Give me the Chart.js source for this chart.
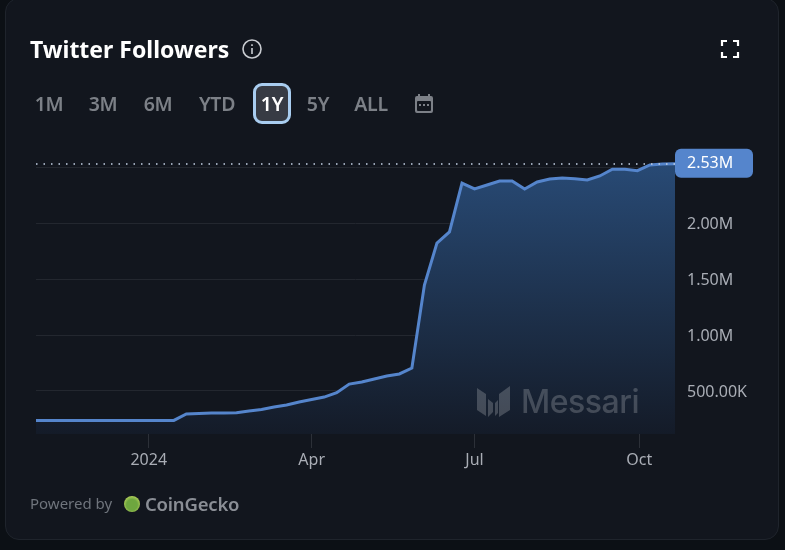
<!DOCTYPE html>
<html>
<head>
<meta charset="utf-8">
<title>Twitter Followers</title>
<script src="https://cdn.jsdelivr.net/npm/chart.js@4"></script>
<style>
    html, body { margin: 0; padding: 0; width: 785px; height: 550px; overflow: hidden; background: #0c1015; }
    body { position: relative; font-family: "Noto Sans", sans-serif; }
    #card { position: absolute; left: 5px; top: -2px; width: 772px; height: 540px; background: #12161e; border: 1px solid #1f242c; border-radius: 14px; }
    #chart { position: absolute; left: 0; top: 0; }
    .abs { position: absolute; white-space: nowrap; }
    #title { left: 30px; top: 34px; font-size: 23px; line-height: 30px; font-weight: 700; color: #fff; }
    .range { top: 90px; width: 60px; text-align: center; font-size: 19.5px; line-height: 28px; font-weight: 600; color: #7c8087; letter-spacing: -0.3px; }
    #active { left: 253px; top: 83px; width: 32px; height: 35px; border: 3px solid #a9cdf0; border-radius: 9px; background: #373b44; }
    #powered { left: 30px; top: 493px; font-size: 15px; line-height: 20px; color: #6f747c; }
    #gecko { left: 145px; top: 490px; font-size: 18.5px; line-height: 28px; font-weight: 600; color: #8a8e95; letter-spacing: -0.2px; }
    #geckoDot { left: 124px; top: 496px; width: 16px; height: 16px; border-radius: 50%; background: radial-gradient(circle at 50% 55%, #6ea63f 0 45%, #a8c956 70%); }
    #mark { left: 521px; top: 380px; font-family: Inter, sans-serif; font-size: 32px; line-height: 44px; font-weight: 500; color: rgba(255,255,255,0.2); letter-spacing: -0.5px; }
</style>
</head>
<body>
<div id="card"></div>
<canvas id="chart" width="785" height="550"></canvas>

<div class="abs" id="title">Twitter Followers</div>
<svg class="abs" style="left:241px;top:38px" width="22" height="22" viewBox="0 0 22 22" fill="none" stroke="#c9ccd1" stroke-width="1.6">
    <circle cx="11" cy="11" r="9"/><path d="M11 10v6M11 6.2v1.8"/>
</svg>
<svg class="abs" style="left:720px;top:39px" width="20" height="20" viewBox="0 0 20 20" fill="none" stroke="#fff" stroke-width="2.2">
    <path d="M2 7V2h5M13 2h5v5M18 13v5h-5M7 18H2v-5"/>
</svg>

<div class="abs" id="active"></div>
<div class="abs range" style="left:19px">1M</div>
<div class="abs range" style="left:73px">3M</div>
<div class="abs range" style="left:128px">6M</div>
<div class="abs range" style="left:187px">YTD</div>
<div class="abs range" style="left:242px;color:#fff">1Y</div>
<div class="abs range" style="left:288px">5Y</div>
<div class="abs range" style="left:341px">ALL</div>
<svg class="abs" style="left:414px;top:93px" width="20" height="21" viewBox="0 0 20 21">
    <path fill="#7c8087" d="M4 1h2v2h8V1h2v2h1a2 2 0 0 1 2 2v13a2 2 0 0 1-2 2H3a2 2 0 0 1-2-2V5a2 2 0 0 1 2-2h1z"/>
    <rect x="3" y="8" width="14" height="10" rx="1" fill="#12161e"/>
    <path fill="#7c8087" d="M5 11h2v2H5zM9 11h2v2H9zM13 11h2v2h-2z"/>
</svg>

<svg class="abs" style="left:476px;top:385px" width="35" height="33" viewBox="0 0 35 33" fill="rgba(255,255,255,0.2)">
    <path d="M1 3l9 6v22l-9-6zM12 14l5 4v9l-5 5zM23 9l11-8v24l-11 7zM19 18l3-3v13l-3 3z"/>
</svg>
<div class="abs" id="mark">Messari</div>

<div class="abs" id="powered">Powered by</div>
<div class="abs" id="geckoDot"></div>
<div class="abs" id="gecko">CoinGecko</div>

<script>
// Weekly dates on the x axis
const weekDates = [
    '2023-10-30', '2023-11-06', '2023-11-13', '2023-11-20', '2023-11-27', '2023-12-04', '2023-12-11', '2023-12-18',
    '2023-12-25', '2024-01-01', '2024-01-08', '2024-01-15', '2024-01-22', '2024-01-29', '2024-02-05', '2024-02-12',
    '2024-02-19', '2024-02-26', '2024-03-04', '2024-03-11', '2024-03-18', '2024-03-25', '2024-04-01', '2024-04-08',
    '2024-04-15', '2024-04-22', '2024-04-29', '2024-05-06', '2024-05-13', '2024-05-20', '2024-05-27', '2024-06-03',
    '2024-06-10', '2024-06-17', '2024-06-24', '2024-07-01', '2024-07-08', '2024-07-15', '2024-07-22', '2024-07-29',
    '2024-08-05', '2024-08-12', '2024-08-19', '2024-08-26', '2024-09-02', '2024-09-09', '2024-09-16', '2024-09-23',
    '2024-09-30', '2024-10-07', '2024-10-14', '2024-10-21'
];

// Followers, in thousands
const followers = [
    237, 237, 237, 237, 237, 237, 237, 237, 237, 237, 237, 237, 295, 299, 303, 303,
    306, 321, 335, 357, 375, 402, 424, 446, 485, 562, 580, 607, 634, 652, 705, 1446,
    1821, 1920, 2357, 2304, 2339, 2375, 2375, 2304, 2366, 2393, 2402, 2396, 2384, 2420,
    2480, 2480, 2467, 2518, 2527, 2530
];

// Axis ticks
const xTickDates = ['2024-01-01', '2024-04-01', '2024-07-01', '2024-10-01'];
const xTickLabels = ['2024', 'Apr', 'Jul', 'Oct'];
const yTickValues = [500, 1000, 1500, 2000, 2500];
const yTickLabels = ['500.00K', '1.00M', '1.50M', '2.00M', ''];
const lastLabel = '2.53M';

const LINE_COLOR = '#5585cc';
const TEXT_COLOR = '#a9adb5';
const AXIS_FONT = { family: '"Noto Sans", sans-serif', size: 16 };

const toTime = date => Date.parse(date + 'T00:00:00Z');

// Dotted line at the latest value and the value badge
const lastValuePlugin = {
    id: 'lastValue',
    afterDatasetsDraw(chart) {
        const { ctx, chartArea, scales } = chart;
        const y = scales.y.getPixelForValue(followers[followers.length - 1]);

        ctx.save();
        ctx.strokeStyle = '#c5d3e6';
        ctx.lineWidth = 1.5;
        ctx.setLineDash([1.5, 6]);
        ctx.beginPath();
        ctx.moveTo(chartArea.left, Math.round(y));
        ctx.lineTo(chartArea.right, Math.round(y));
        ctx.stroke();
        ctx.setLineDash([]);

        ctx.fillStyle = LINE_COLOR;
        ctx.beginPath();
        ctx.roundRect(chartArea.right, y - 15, 78, 29, 6);
        ctx.fill();

        ctx.fillStyle = '#fff';
        ctx.font = '16px "Noto Sans", sans-serif';
        ctx.textAlign = 'left';
        ctx.textBaseline = 'middle';
        ctx.fillText(lastLabel, chartArea.right + 12, y);
        ctx.restore();
    }
};

new Chart(document.getElementById('chart').getContext('2d'), {
    type: 'line',
    data: {
        datasets: [{
            data: weekDates.map((date, i) => ({ x: toTime(date), y: followers[i] })),
            borderColor: LINE_COLOR,
            borderWidth: 3,
            pointRadius: 0,
            tension: 0,
            fill: 'start',
            backgroundColor: function(context) {
                const { ctx, chartArea } = context.chart;
                if (!chartArea) return 'transparent';
                const gradient = ctx.createLinearGradient(0, 164, 0, chartArea.bottom);
                gradient.addColorStop(0, '#284a75');
                gradient.addColorStop(1, '#141b28');
                return gradient;
            }
        }]
    },
    options: {
        responsive: false,
        animation: false,
        layout: { padding: { left: 36, top: 150, right: 0, bottom: 0 } },
        plugins: { legend: { display: false }, tooltip: { enabled: false } },
        scales: {
            x: {
                type: 'linear',
                min: toTime(weekDates[0]),
                max: toTime(weekDates[weekDates.length - 1]),
                afterFit: scale => { scale.height = 116; },
                afterBuildTicks: scale => { scale.ticks = xTickDates.map(date => ({ value: toTime(date) })); },
                border: { display: false },
                grid: { drawOnChartArea: false, tickColor: '#2c3038', tickLength: 14 },
                ticks: {
                    autoSkip: false,
                    maxRotation: 0,
                    padding: 3,
                    color: TEXT_COLOR,
                    font: AXIS_FONT,
                    callback: (value, index) => xTickLabels[index]
                }
            },
            y: {
                position: 'right',
                min: 116,
                max: 2652,
                afterFit: scale => { scale.width = 110; },
                afterBuildTicks: scale => { scale.ticks = yTickValues.map(value => ({ value })); },
                border: { display: false },
                grid: { color: '#23272f', drawTicks: false },
                ticks: {
                    padding: 12,
                    labelOffset: 1.5,
                    color: TEXT_COLOR,
                    font: AXIS_FONT,
                    callback: (value, index) => yTickLabels[index]
                }
            }
        }
    },
    plugins: [lastValuePlugin]
});
</script>
</body>
</html>
